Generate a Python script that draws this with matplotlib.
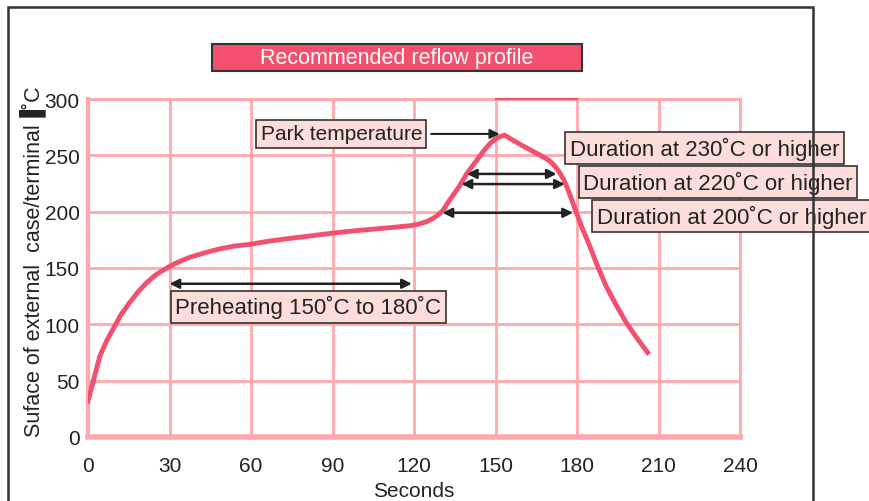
import numpy as np
import matplotlib
matplotlib.use("Agg")
import matplotlib.pyplot as plt
from matplotlib.patches import Rectangle

plt.rcParams['font.family'] = ['Liberation Sans', 'DejaVu Sans']

# reflow curve (seconds, degC)
secs = [0, 2, 4.4, 7, 9.3, 12, 15.4, 18.5, 21.6, 25, 28.3, 32, 37.5, 43, 48.5,
        54, 59.6, 67, 75, 82, 90.2, 98, 105, 112, 118.4, 121, 124.5, 127,
        128.8, 130.6, 132.5, 134.5, 136.8, 139.5, 142.9, 146, 148.4, 150.5,
        153.3, 156, 160, 165, 168, 170, 172, 173.5, 175, 176.6, 178, 179.7,
        182, 184.6, 187.5, 190.7, 194, 198, 202, 206]
temps = [32, 50, 72, 86, 96, 108, 119.5, 129, 137, 144, 149, 154, 159.5, 163.5,
         167, 169.5, 171, 174, 176.5, 178.5, 181, 183, 184.5, 186, 187.5, 188.5,
         191, 194, 197, 201, 208, 215, 223, 234, 245, 255, 261.5, 265.5,
         268, 264, 258.5, 252, 248, 245, 240, 235, 229, 220, 211, 199.5,
         185, 170, 152, 134, 119, 102, 88, 75]

xticks = [0, 30, 60, 90, 120, 150, 180, 210, 240]
yticks = [0, 50, 100, 150, 200, 250, 300]

# duration arrows: label, y level, start, end
dur_labels = ["Duration at 230˚C or higher", "Duration at 220˚C or higher",
              "Duration at 200˚C or higher"]
dur_y = [233.5, 224.5, 199]
dur_x0 = [139.5, 137.5, 130.5]
dur_x1 = [172.5, 175.5, 178.5]
dur_text_x = [177.4, 182.2, 187.3]
dur_text_y = [256.5, 226.3, 196]

peak_t, peak_v = 151.5, 269
preheat_x = (30, 119.2)
preheat_y = 136

curve_col = '#f2506e'
grid_col = '#ffa8ad'
box_face = '#fddcdc'

fig = plt.figure(figsize=(8.7, 5.02), dpi=100)
ax = fig.add_axes([88 / 870, 1 - 438 / 502, (740 - 88) / 870, (438 - 100) / 502])
ax.set_xlim(0, 240)
ax.set_ylim(0, 300)
ax.set_xticks(xticks)
ax.set_yticks(yticks)
ax.grid(True, color=grid_col, lw=2)
ax.tick_params(length=0, labelsize=15, colors='#222222')
ax.tick_params(axis='x', pad=14)
ax.tick_params(axis='y', pad=6)
for s in ax.spines.values():
    s.set_color(grid_col)
    s.set_linewidth(2)
ax.spines['bottom'].set_linewidth(4)
ax.spines['left'].set_linewidth(3)
ax.set_axisbelow(True)

ax.plot(secs, temps, color=curve_col, lw=3.5, solid_joinstyle='round', zorder=3)
ax.plot([150, 180], [300, 300], color=curve_col, lw=1.5, zorder=3, clip_on=False)

ax.set_xlabel("Seconds", fontsize=15, labelpad=4, color='#222222')

arrow_kw = dict(arrowstyle='<|-|>', color='#222222', lw=1.8, mutation_scale=14,
                shrinkA=0, shrinkB=0)
for y, a, b in zip(dur_y, dur_x0, dur_x1):
    ax.annotate("", xy=(b, y), xytext=(a, y), arrowprops=arrow_kw, zorder=4)
ax.annotate("", xy=(preheat_x[1], preheat_y), xytext=(preheat_x[0], preheat_y),
            arrowprops=arrow_kw, zorder=4)
ax.annotate("", xy=(peak_t, peak_v), xytext=(126.3, peak_v),
            arrowprops=dict(arrowstyle='-|>', color='#222222', lw=1.5,
                            mutation_scale=14, shrinkA=0, shrinkB=0), zorder=4)

box_kw = dict(boxstyle='square,pad=0.2', fc=box_face, ec='#333333', lw=1.2)
ax.text(63.5, 269, "Park temperature", fontsize=15, ha='left', va='center',
        color='#222222', bbox=box_kw, zorder=5)
ax.text(32.2, 115.8, "Preheating 150˚C to 180˚C", fontsize=16, ha='left',
        va='center', color='#222222', bbox=box_kw, zorder=5)
for t, tx, ty in zip(dur_labels, dur_text_x, dur_text_y):
    ax.text(tx, ty, t, fontsize=16, ha='left', va='center', color='#222222',
            bbox=box_kw, zorder=5, clip_on=False)

# y label with the odd black mark before the unit
fig.text(33 / 870, 1 - 437 / 502, "Suface of external  case/terminal▐˚C",
         rotation=90, ha='center', va='bottom', fontsize=15.5, color='#222222')

# title box
fig.patches.append(Rectangle((212 / 870, 1 - 72 / 502), 370 / 870, 27 / 502,
                             transform=fig.transFigure, fc='#f2506e',
                             ec='#333333', lw=1.5))
fig.text(397 / 870, 1 - 58.5 / 502, "Recommended reflow profile", color='white',
         fontsize=15.5, ha='center', va='center')

# outer frame
fig.patches.append(Rectangle((8 / 870, -0.1), 805 / 870, 1.1 - 8 / 502,
                             transform=fig.transFigure, fill=False,
                             ec='#333333', lw=1.8))

fig.savefig("out.png", dpi=100)
